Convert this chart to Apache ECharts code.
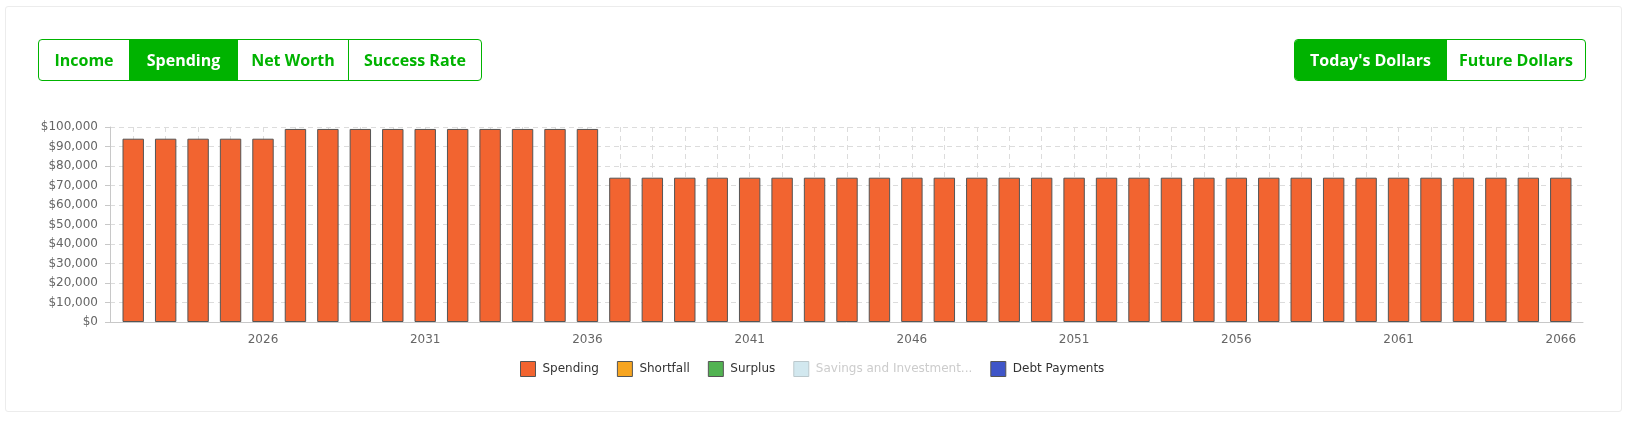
<!DOCTYPE html>
<html>
<head>
<meta charset="utf-8">
<script src="https://cdn.jsdelivr.net/npm/echarts@6/dist/echarts.min.js"></script>
<style>
  html, body { margin: 0; padding: 0; width: 1629px; height: 422px; background: #fff; overflow: hidden; }
  #card { position: absolute; left: 5px; top: 6px; width: 1617px; height: 406px; border: 1px solid #ececec; border-radius: 3px; box-sizing: border-box; }
  #chart { position: absolute; left: 0; top: 0; width: 1629px; height: 422px; }
  .grp { position: absolute; top: 39px; height: 42px; border: 1px solid #00b300; border-radius: 4px; box-sizing: border-box; display: flex; overflow: hidden; background: #fff; z-index: 2; }
  .btn { height: 100%; display: flex; align-items: center; justify-content: center; font-family: "Open Sans", sans-serif; font-weight: 700; font-size: 16px; color: #00b300; box-sizing: border-box; }
  .btn + .btn { border-left: 1px solid #00b300; }
  .btn.on { background: #00b300; color: #fff; }
</style>
</head>
<body>
<div id="card"></div>
<div class="grp" style="left:38px;width:444px;">
  <div class="btn" style="width:90px;">Income</div>
  <div class="btn on" style="width:108px;">Spending</div>
  <div class="btn" style="width:111px;">Net Worth</div>
  <div class="btn" style="flex:1;">Success Rate</div>
</div>
<div class="grp" style="left:1294px;width:292px;">
  <div class="btn on" style="width:151px;">Today's Dollars</div>
  <div class="btn" style="flex:1;">Future Dollars</div>
</div>
<div id="chart"></div>
<script>
const years = [];
for (let y = 2022; y <= 2066; y++) years.push(String(y));

const spending = [
  94000, 94000, 94000, 94000, 94000,
  99000, 99000, 99000, 99000, 99000, 99000, 99000, 99000, 99000, 99000,
  74000, 74000, 74000, 74000, 74000, 74000, 74000, 74000, 74000, 74000,
  74000, 74000, 74000, 74000, 74000, 74000, 74000, 74000, 74000, 74000,
  74000, 74000, 74000, 74000, 74000, 74000, 74000, 74000, 74000, 74000
];
const shortfall = [];
const surplus = [];
const savings = [];
const debtPayments = [];

const seriesNames = ['Spending', 'Shortfall', 'Surplus', 'Savings and Investments', 'Debt Payments'];
const seriesColors = ['#f26430', '#f7a520', '#52b352', '#d2e8ef', '#3f55c8'];
const seriesData = [spending, shortfall, surplus, savings, debtPayments];

const yTicks = { min: 0, max: 100000, interval: 10000 };

const chart = echarts.init(document.getElementById('chart'));
chart.setOption({
  animation: false,
  textStyle: { fontFamily: 'DejaVu Sans' },
  grid: [
    { left: 110, right: 46, top: 127, bottom: 100, containLabel: false },
    { left: 117, right: 52, top: 127, bottom: 100, containLabel: false }
  ],
  legend: {
    left: 520, top: 361, padding: 0,
    itemWidth: 15, itemHeight: 15, itemGap: 18,
    icon: 'rect',
    itemStyle: { borderColor: '#555', borderWidth: 1 },
    textStyle: { fontSize: 12, color: '#333', fontFamily: 'DejaVu Sans', padding: [0, 0, 0, 2] },
    formatter: n => n.length > 22 ? n.slice(0, 22) + '...' : n,
    data: seriesNames.map((n, i) => i === 3
      ? { name: n, textStyle: { color: '#cccccc' }, itemStyle: { borderColor: '#bbc8cc' } }
      : { name: n })
  },
  xAxis: [
    {
      gridIndex: 0, type: 'value', min: 0, max: 1,
      axisLine: { show: true, lineStyle: { color: '#c8c8c8' } },
      axisTick: { show: false }, axisLabel: { show: false }, splitLine: { show: false }
    },
    {
      gridIndex: 1,
      type: 'category',
      data: years,
      boundaryGap: true,
      axisLine: { show: false },
      axisTick: { alignWithLabel: true, interval: 0, length: 6, lineStyle: { color: '#c8c8c8' } },
      axisLabel: { interval: (i) => (i - 4) % 5 === 0, color: '#666', fontSize: 12, margin: 12, fontFamily: 'DejaVu Sans' },
      splitLine: { show: true, alignWithLabel: true, interval: 0, lineStyle: { color: '#dcdcdc', type: [5, 4] } }
    }
  ],
  yAxis: [
    {
      gridIndex: 0,
      type: 'value',
      min: yTicks.min, max: yTicks.max, interval: yTicks.interval,
      axisLine: { show: true, lineStyle: { color: '#c8c8c8' } },
      axisTick: { show: true, length: 5, lineStyle: { color: '#c8c8c8' } },
      axisLabel: { color: '#666', fontSize: 12, margin: 12, fontFamily: 'DejaVu Sans',
        formatter: v => '$' + v.toLocaleString('en-US') },
      splitLine: { lineStyle: { color: '#dcdcdc', type: [5, 4] } }
    },
    {
      gridIndex: 1,
      type: 'value',
      min: yTicks.min, max: yTicks.max, interval: yTicks.interval,
      axisLine: { show: false }, axisTick: { show: false }, axisLabel: { show: false }, splitLine: { show: false }
    }
  ],
  series: seriesNames.map((n, i) => ({
    name: n,
    type: 'bar',
    xAxisIndex: 1,
    yAxisIndex: 1,
    stack: 'total',
    barCategoryGap: '34%',
    data: seriesData[i],
    itemStyle: { color: seriesColors[i], borderColor: '#555', borderWidth: 1 }
  }))
});
</script>
</body>
</html>
